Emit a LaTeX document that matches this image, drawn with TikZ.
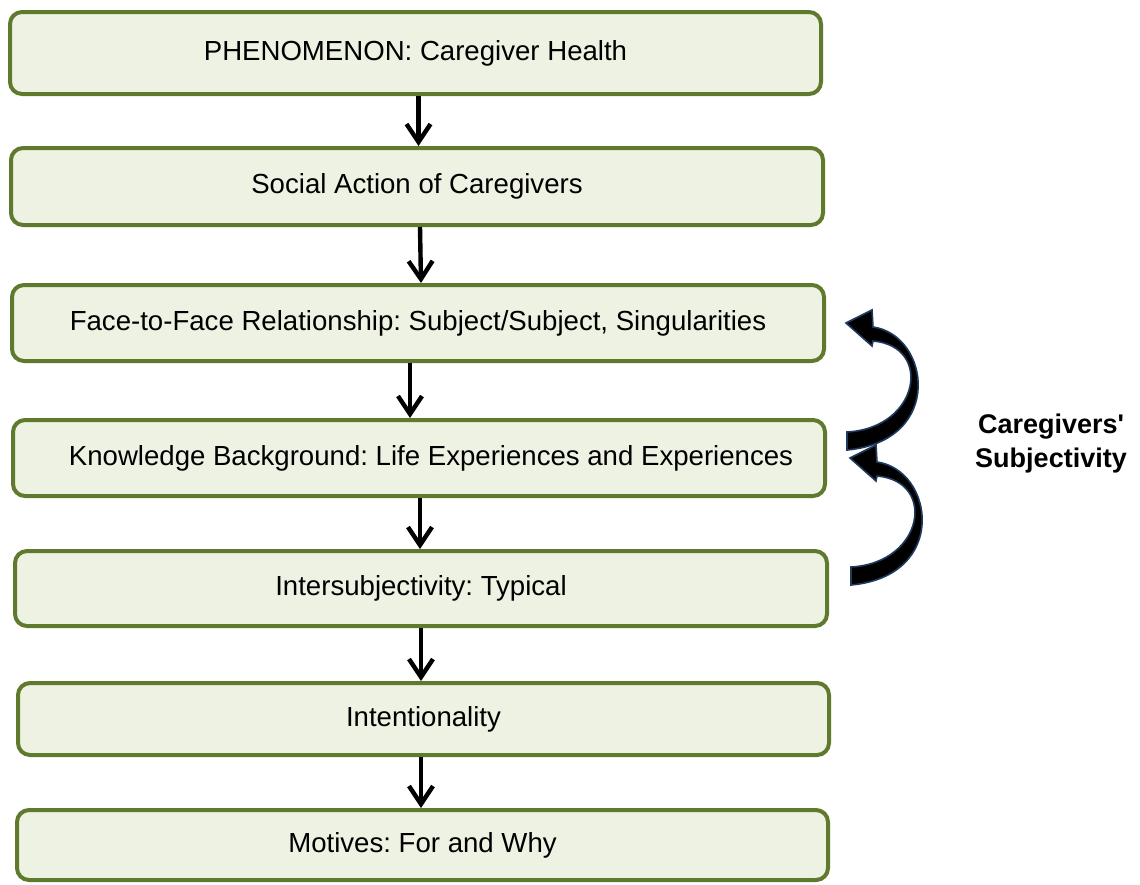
\documentclass[tikz,border=0pt]{standalone}
\usepackage{fontspec}
\setmainfont{Liberation Sans}
\usetikzlibrary{arrows.meta}
\definecolor{boxborder}{HTML}{5F7A2D}
\definecolor{boxfill}{HTML}{EEF2E2}
\definecolor{arrowedge}{HTML}{1F3A5F}
\frenchspacing
\begin{document}
\begin{tikzpicture}[x=0.5pt,y=-0.5pt,
  stepbox/.style={draw=boxborder, fill=boxfill, line width=2pt, rounded corners=6pt,
    inner sep=0pt, font=\fontsize{13.8}{16}\selectfont},
  flow/.style={line width=2.2pt, -{Straight Barb[length=9pt,width=12pt,line width=2.2pt]}},
  curvedarrow/.style={fill=black, draw=arrowedge, line width=0.8pt}]
\useasboundingbox (0,0) rectangle (1140,884);
\node[stepbox, minimum width=405.5pt, minimum height=41pt] (b1) at (415.5,53) {PHENOMENON: Caregiver Health};
\node[stepbox, minimum width=406pt, minimum height=38.5pt] (b2) at (417,186.5) {Social Action of Caregivers};
\node[stepbox, minimum width=406pt, minimum height=38pt] (b3) at (418,323) {Face-to-Face Relationship: Subject/Subject, Singularities};
\node[stepbox, minimum width=406pt, minimum height=38pt] (b4) at (419,458) {\hspace*{12pt}Knowledge Background: Life Experiences and Experiences};
\node[stepbox, minimum width=406pt, minimum height=37.5pt] (b5) at (421,588.5) {Intersubjectivity: Typical};
\node[stepbox, minimum width=405.5pt, minimum height=36pt] (b6) at (423.5,719) {Intentionality};
\node[stepbox, minimum width=405.5pt, minimum height=35pt] (b7) at (422.5,845) {Motives: For and Why};
\draw[flow] ([xshift=1.5pt]b1.south) -- ([xshift=0.75pt]b2.north);
\draw[flow] ([xshift=1.5pt]b2.south) -- ([xshift=1.5pt]b3.north);
\draw[flow] ([xshift=-4pt]b3.south) -- ([xshift=-4.5pt]b4.north);
\draw[flow] ([xshift=0.5pt]b4.south) -- ([xshift=-0.5pt]b5.north);
\draw[flow] ([xshift=0pt]b5.south) -- ([xshift=-1.25pt]b6.north);
\draw[flow] ([xshift=-1.25pt]b6.south) -- ([xshift=-0.75pt]b7.north);
\path[curvedarrow] (847,432) .. controls (920,428) and (933,346) .. (873,341) -- (872,346) -- (846,323) -- (872,310) -- (873,327) .. controls (930,335) and (945,441) .. (847,450) -- cycle;
\begin{scope}[shift={(4,135)}]
\path[curvedarrow] (847,432) .. controls (920,428) and (933,346) .. (873,341) -- (872,346) -- (846,323) -- (872,310) -- (873,327) .. controls (930,335) and (945,441) .. (847,450) -- cycle;
\end{scope}
\node[font=\bfseries\fontsize{13.5}{17}\selectfont, align=center] (subj) at (1051,444) {Caregivers\textquotesingle\\Subjectivity};
\end{tikzpicture}
\end{document}
